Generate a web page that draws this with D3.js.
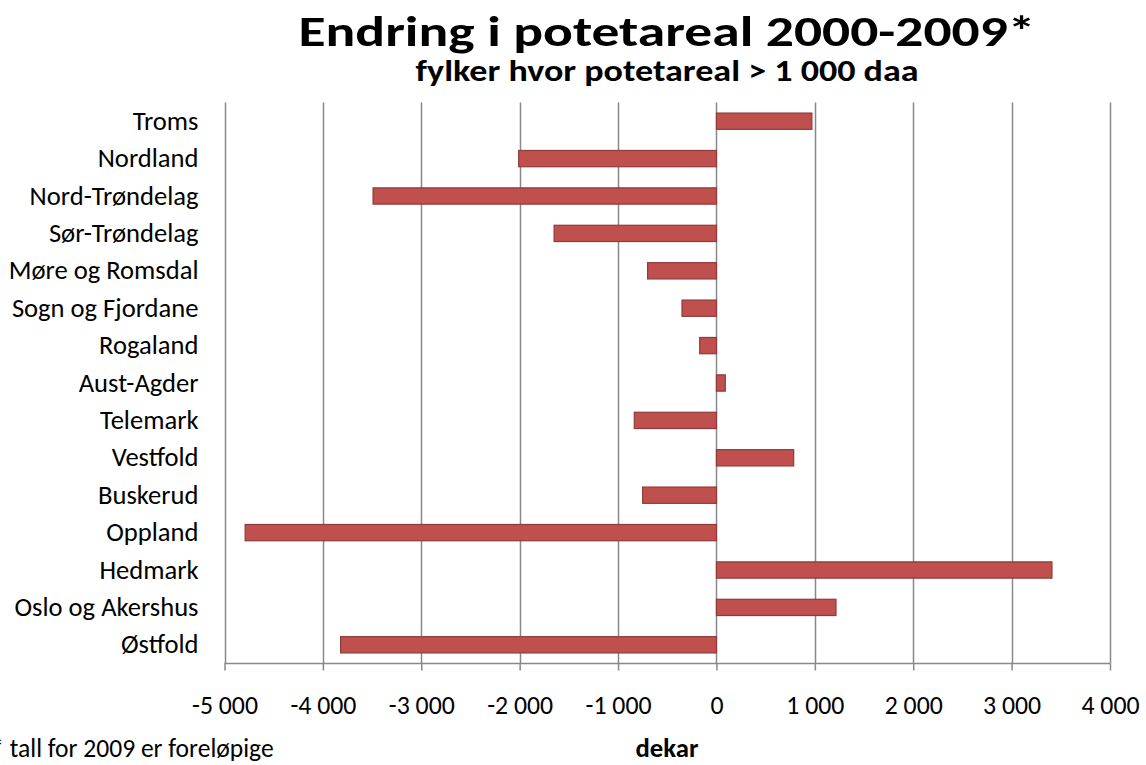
<!DOCTYPE html>
<html><head><meta charset="utf-8">
<script src="https://cdn.jsdelivr.net/npm/d3@7"></script>
<style>
body{margin:0;background:#fff;}
svg{display:block;font-family:Carlito,"Open Sans",Lato,sans-serif;}
</style></head>
<body><svg id="c" width="1146" height="765"></svg>
<script>
const categories = ["Troms","Nordland","Nord-Trøndelag","Sør-Trøndelag","Møre og Romsdal","Sogn og Fjordane","Rogaland","Aust-Agder","Telemark","Vestfold","Buskerud","Oppland","Hedmark","Oslo og Akershus","Østfold"];
const values = [970,-2010,-3490,-1650,-700,-350,-170,90,-835,785,-750,-4790,3410,1215,-3820];
const xTicks = [-5000,-4000,-3000,-2000,-1000,0,1000,2000,3000,4000];
const title = "Endring i potetareal 2000-2009*";
const subtitle = "fylker hvor potetareal > 1 000 daa";
const xTitle = "dekar";
const footnote = "* tall for 2009 er foreløpige";

const svg = d3.select("#c");
const FONT = "Carlito,'Open Sans',Lato,sans-serif";
const L = 224.5, R = 1110, T = 102.5, B = 663.5;
const x = d3.scaleLinear().domain([-5000,4000]).range([L,R]);
const y = d3.scaleBand().domain(categories).range([T,B]).paddingInner(0.565).paddingOuter(0.2825);
const fmt = v => (v<0?"-":"") + d3.format(",")(Math.abs(v)).replace(/,/g," ");

// font size so that a string gets a given width
function fitSize(str, width, weight){
  const t = svg.append("text").attr("font-size",100).attr("font-weight",weight).attr("font-family",FONT).text(str);
  const w = t.node().getComputedTextLength();
  t.remove();
  return 100*width/w;
}
const labelSize = fitSize("Nord-Trøndelag",169,"normal");
const tickSize = fitSize("-5 000",66,"normal");

// gridlines
svg.append("g").selectAll("line").data(xTicks).join("line")
  .attr("x1",d=>Math.round(x(d))+0.5).attr("x2",d=>Math.round(x(d))+0.5)
  .attr("y1",T).attr("y2",B)
  .attr("stroke","#898989").attr("stroke-width",1.5);

// bars
svg.append("g").selectAll("rect").data(values).join("rect")
  .attr("x",(d)=>x(Math.min(0,d)))
  .attr("width",d=>Math.abs(x(d)-x(0)))
  .attr("y",(d,i)=>y(categories[i]))
  .attr("height",y.bandwidth())
  .attr("fill","#C0504D").attr("stroke","#8E3B39").attr("stroke-width",1.2);

// x axis
const xa = svg.append("g").attr("transform",`translate(0,${B})`)
  .call(d3.axisBottom(x).tickValues(xTicks).tickFormat(fmt).tickSize(7));
xa.select(".domain").attr("stroke","#898989").attr("stroke-width",1.5).attr("d",`M${L},0H${R}`);
xa.selectAll(".tick line").attr("stroke","#898989").attr("stroke-width",1.5);
xa.selectAll(".tick text").attr("font-size",tickSize).attr("fill","#000").attr("font-family",FONT)
  .attr("y",50.5).attr("dy",0);

// y labels
const ya = svg.append("g").attr("transform",`translate(${L},0)`)
  .call(d3.axisLeft(y).tickSize(0).tickPadding(26));
ya.select(".domain").remove();
ya.selectAll(".tick text").attr("font-size",labelSize).attr("fill","#000").attr("font-family",FONT)
  .attr("dy",0).attr("y",8.5);

svg.append("text").attr("x",667).attr("y",46).attr("text-anchor","middle")
  .attr("font-size",43).attr("font-weight","bold")
  .attr("textLength",737).attr("lengthAdjust","spacingAndGlyphs").text(title);
svg.append("text").attr("x",667).attr("y",81).attr("text-anchor","middle")
  .attr("font-size",fitSize(subtitle,503,"bold")*0.85).attr("font-weight","bold")
  .attr("textLength",503).attr("lengthAdjust","spacingAndGlyphs").text(subtitle);
svg.append("text").attr("x",667).attr("y",757).attr("text-anchor","middle")
  .attr("font-size",fitSize(xTitle,63,"bold")).attr("font-weight","bold").text(xTitle);
const fs = fitSize("tall for 2009 er foreløpige",264,"normal");
const fn = svg.append("text").attr("y",757).attr("font-size",fs).attr("font-family",FONT).text(footnote);
// "tall" starts at x=8 like the reference, asterisk partly cut at the left edge
const pre = svg.append("text").attr("font-size",fs).attr("font-family",FONT).text("* ");
const pw = pre.node().getComputedTextLength(); pre.remove();
fn.attr("x",8-pw-4);
</script></body></html>
